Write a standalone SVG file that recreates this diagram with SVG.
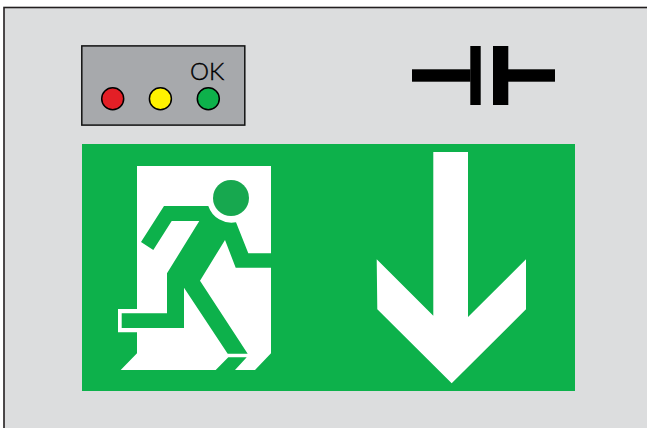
<svg xmlns="http://www.w3.org/2000/svg" width="647" height="428" viewBox="0 0 647 428">
<style>
.led{stroke:#000;stroke-width:1.5}
.sym{fill:#000}
.white{fill:#fff}
.green{fill:#0db14b}
</style>
<rect width="647" height="428" fill="#fff"/>
<g id="housing"><rect x="4" y="7.5" width="660" height="440" fill="#dcddde" stroke="#231f20" stroke-width="1.6"/></g>
<g id="indicator-panel">
<rect x="81.8" y="45.9" width="163" height="79.2" fill="#a7a9ac" stroke="#111" stroke-width="1.5"/>
<text x="190" y="79.5" font-family="Lato, 'Open Sans', sans-serif" font-size="24" font-weight="300" fill="#000" stroke="#000" stroke-width="0.4">OK</text>
<circle class="led" cx="112.7" cy="98.7" r="11" fill="#e31f26"/>
<circle class="led" cx="160.4" cy="98.7" r="11" fill="#fff200"/>
<circle class="led" cx="208.3" cy="98.7" r="11" fill="#0db14b"/>
</g>
<g id="capacitor-symbol">
<rect class="sym" x="412" y="69.3" width="58.5" height="12.4"/>
<rect class="sym" x="470.3" y="46" width="10.4" height="59"/>
<rect class="sym" x="493" y="46" width="15.3" height="59"/>
<rect class="sym" x="508" y="69.3" width="47" height="12.4"/>
</g>
<g id="exit-sign">
<rect class="green" x="82" y="144" width="493" height="247"/>
<polygon class="white" points="137,166 271,166 271,353.3 255,370 235,370 246.7,357.3 228.3,357.3 215.7,370 120.7,370 137,353.3 137,332.3 118,332.3 118,309 137,309"/>
<path class="green" d="M141,242L164,206H208.3A24.5,24.5 0 0 0 236,222.3L248.3,253.3H271.5V267.7H235.7L225,240L200,280.7L247.7,353.7H227.7L184,287.7V328H121.7V313.3H167V273.3L199.3,221H171.7L153.3,250Z"/>
<circle cx="231" cy="198" r="18" fill="#17a84f"/>
<polygon class="white" points="433.3,152 468,152 468,317 526,259.3 526,309.3 451.7,383.3 377.3,309.3 376.7,259.3 433.3,315.7"/>
</g>
</svg>
